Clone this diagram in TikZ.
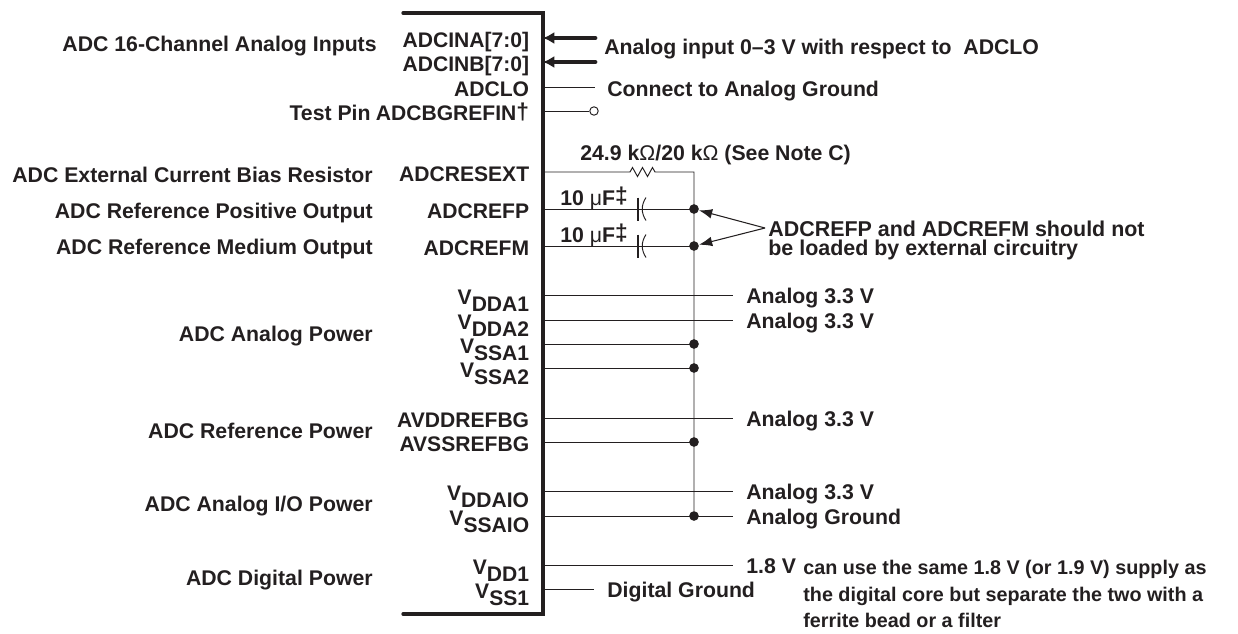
\documentclass[tikz,border=0pt]{standalone}
\usepackage{fontspec}
\setmainfont{Liberation Sans}
\usepackage{xcolor}
\usetikzlibrary{arrows.meta,positioning}
\definecolor{inkc}{HTML}{231F20}
\newcommand{\vpin}[1]{\raisebox{0.14cm}{V}#1}
\newcommand{\thinc}[1]{{\mdseries #1}}
\newcommand{\upmark}[1]{\raisebox{0.03cm}{\fontsize{13}{14}\selectfont #1}}
\tikzset{
txt/.style={inner sep=0pt,yshift=-0.02cm,text=inkc,font=\fontsize{12.1}{14}\selectfont\bfseries},
pinl/.style={txt,anchor=base east,font=\fontsize{12}{14}\selectfont\bfseries},
grpl/.style={txt,anchor=base east},
note/.style={txt,anchor=base west},
small note/.style={note,font=\fontsize{11.25}{13}\selectfont\bfseries},
wire/.style={draw=inkc,line width=0.55pt},
bus/.style={draw=inkc,line width=2.8pt,line cap=round,-{Latex[length=6.5pt,width=7pt]}},
body/.style={draw=inkc,line width=1.9pt,line cap=round,line join=miter},
jdot/.style={circle,fill=inkc,inner sep=0pt,minimum size=5.5pt},
opin/.style={circle,draw=inkc,fill=white,line width=0.55pt,inner sep=0pt,minimum size=4.8pt},
ptr/.style={draw=inkc,line width=0.6pt,-{Latex[length=7.5pt,width=5.5pt]}},
}
\begin{document}
\begin{tikzpicture}[x=0.02cm,y=-0.02cm]
\useasboundingbox (0,0) rectangle (1238,633);

% package body, open on the left
\coordinate (bodytl) at (403,13);
\coordinate (bodybl) at (403,614);
\coordinate (bodybr) at (543,614);
\draw[body] (bodytl) -| (bodybr) -- (bodybl);

% pin names
\foreach \pname/\y/\ptxt in {ina/38/{ADCINA[7:0]},inb/62/{ADCINB[7:0]},lo/87/ADCLO,resext/172/ADCRESEXT,refp/209/ADCREFP,refm/246/ADCREFM,avdd/418/AVDDREFBG,avss/442/AVSSREFBG} {
\node[pinl] (l\pname) at (529.5,\y+8.5) {\ptxt};
}
\node[pinl] (lbg) at (529.5,119.5) {ADCBGREFIN\upmark{†}};
\foreach \pname/\y/\ptxt in {vdda1/295/DDA1,vdda2/320/DDA2,vssa1/344/SSA1,vssa2/368/SSA2,vddaio/491/DDAIO,vssaio/516/SSAIO,vdd1/565/DD1,vss1/589/SS1} {
\node[pinl] (l\pname) at (529.5,\y+15) {\vpin{\ptxt}};
}

% group names
\node[grpl] (g1) at (377,50) {ADC 16-Channel Analog Inputs};
\node[grpl] (g2) at (371,119.5) {Test Pin};
\node[grpl] (g3) at (373,181) {ADC External Current Bias Resistor};
\node[grpl] (g4) at (373,217) {ADC Reference Positive Output};
\node[grpl] (g5) at (373,253) {ADC Reference Medium Output};
\node[grpl] (g6) at (373,340) {ADC Analog Power};
\node[grpl] (g7) at (373,437) {ADC Reference Power};
\node[grpl] (g8) at (373,510) {ADC Analog I/O Power};
\node[grpl] (g9) at (373,584) {ADC Digital Power};

% wires leaving the pins
\foreach \pname/\y/\xend in {lo/87/595,resext/172/694,refp/209/694,refm/246/694,vdda1/295/733,vdda2/320/733,vssa1/344/694,vssa2/368/694,avdd/418/733,avss/442/694,vddaio/491/733,vssaio/516/733,vdd1/565/733,vss1/589/594} {
\coordinate (p\pname) at (543,\y);
\coordinate (e\pname) at (\xend,\y);
}
\draw[wire] (plo) -- (elo);
\draw[wire] (pvdda1) -- (evdda1);
\draw[wire] (pvdda2) -- (evdda2);
\draw[wire] (pvssa1) -- (evssa1);
\draw[wire] (pvssa2) -- (evssa2);
\draw[wire] (pavdd) -- (eavdd);
\draw[wire] (pavss) -- (eavss);
\draw[wire] (pvddaio) -- (evddaio);
\draw[wire] (pvssaio) -- (evssaio);
\draw[wire] (pvdd1) -- (evdd1);
\draw[wire] (pvss1) -- (evss1);

% buses
\coordinate (pina) at (543,38);
\coordinate (eina) at (595,38);
\coordinate (pinb) at (543,62);
\coordinate (einb) at (595,62);
\draw[bus] (eina) -- (pina);
\draw[bus] (einb) -- (pinb);

% test pin
\coordinate (pbg) at (543,111);
\node[opin] (obg) at (594,111) {};
\draw[wire] (pbg) -- (obg);

% capacitors
\foreach \pname/\y in {refp/209,refm/246} {
\draw[wire] (p\pname) -- (e\pname);
\draw[draw=inkc,line width=0.9pt] (638,\y-11.5) -- (638,\y+11.5);
\draw[wire] (646,\y-11.5) .. controls (641,\y-4) and (641,\y+4) .. (646,\y+11.5);
}

% junctions
\foreach \pname in {refp,refm,vssa1,vssa2,avss} {
\node[jdot] (j\pname) at (e\pname) {};
}
\node[jdot] (jvssaio) at (694,516) {};

% resistor and return rail
\draw[wire] (presext) -- (630,172) -- ++(2.5,-4.5) -- ++(5,9) -- ++(5,-9) -- ++(5,9) -- ++(5,-9) -- ++(2.5,4.5) -- (eresext) -- (jvssaio);

% right hand notes
\node[note] (nin) at (604,53) {Analog input 0–3 V with respect to\ \ ADCLO};
\node[note] (ngnd) at (607,95) {Connect to Analog Ground};
\node[note] (nres) at (580,159) {24.9 k\thinc{Ω}/20 k\thinc{Ω} (See Note C)};
\node[note] (ncp) at (560,204) {10 \thinc{μ}F\upmark{‡}};
\node[note] (ncm) at (560,241) {10 \thinc{μ}F\upmark{‡}};
\node[note,font=\fontsize{12.2}{14}\selectfont\bfseries] (nref) at (768,235) {ADCREFP and ADCREFM should not};
\node[note,font=\fontsize{12.2}{14}\selectfont\bfseries] (nrefb) at (768,254) {be loaded by external circuitry};
\coordinate (apex) at (765,228);
\draw[ptr] (apex) -- (jrefp);
\draw[ptr] (apex) -- (jrefm);
\node[note] (na1) at (746,302) {Analog 3.3 V};
\node[note] (na2) at (746,327) {Analog 3.3 V};
\node[note] (na3) at (746,425) {Analog 3.3 V};
\node[note] (na4) at (746,498) {Analog 3.3 V};
\node[note] (nag) at (746,523) {Analog Ground};
\node[note] (nv) at (746,572) {1.8 V};
\node[note] (ndg) at (607,596) {Digital Ground};
\node[small note] (ncan) at (803,573) {can use the same 1.8 V (or 1.9 V) supply as};
\node[small note] (ncan2) at (803,600) {the digital core but separate the two with a};
\node[small note] (ncan3) at (803,626) {ferrite bead or a filter};
\end{tikzpicture}
\end{document}
